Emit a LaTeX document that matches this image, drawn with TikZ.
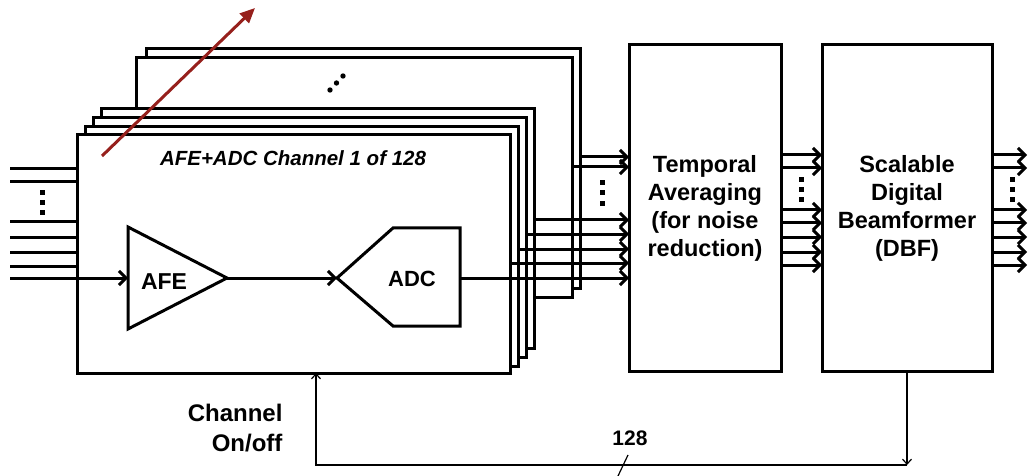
\documentclass[tikz,border=0pt]{standalone}
\usepackage{fontspec}
\setmainfont{Liberation Sans}
\usetikzlibrary{arrows.meta, positioning, calc}
\definecolor{tunered}{RGB}{150,32,28}

\begin{document}
\begin{tikzpicture}[
        x=1pt, y=-1pt,
        chan/.style={rectangle, draw=black, line width=3pt, fill=white, outer sep=0pt, inner sep=0pt, minimum width=433pt, minimum height=239pt, anchor=north west},
        block/.style={rectangle, draw=black, line width=3pt, fill=white, outer sep=0pt, minimum width=152pt, minimum height=326pt, anchor=north west, align=center, font=\fontsize{23.5}{28}\selectfont\bfseries},
        part/.style={draw=black, line width=3pt, line join=miter},
        arrow/.style={line width=3pt, -{Straight Barb[length=7pt, width=14pt]}},
        wire/.style={line width=3pt},
        fbline/.style={line width=1.2pt, -{Straight Barb[length=5pt, width=9pt]}},
        dotm/.style={fill=black}
    ]
    \useasboundingbox (0,0) rectangle (1029,476);

    % Channel stack (back to front)
    \node[chan, minimum width=434pt] (back0) at (146,49) {};
    \node[chan, minimum width=436pt] (back1) at (136,58) {};
    \node[chan] (s4) at (101,109) {};
    \node[chan] (s3) at (93,118) {};
    \node[chan] (s2) at (85,127) {};
    \node[chan, minimum height=238pt] (front) at (77,135) {};

    % Processing blocks
    \node[block] (temporal) at (629,45) {Temporal\\Averaging\\(for noise\\reduction)};
    \node[block, minimum width=170pt, anchor=west] (dbf) [right=41pt of temporal] {Scalable\\Digital\\Beamformer\\(DBF)};

    % Texts
    \node[font=\fontsize{20.5}{24}\selectfont\bfseries\itshape] (title) at (293,158) {AFE+ADC Channel 1 of 128};
    \node[font=\fontsize{24}{30}\selectfont\bfseries, align=right, anchor=east] (onoff) at (286,428) {Channel\\On/off};

    % AFE and ADC
    \coordinate (afe-in) at (128,278);
    \coordinate (afe-out) at (227,278);
    \coordinate (adc-in) at (337,278);
    \coordinate (adc-out) at (460,278);
    \draw[part] (128,227) -- (afe-out) -- (128,329) -- cycle;
    \draw[part] (adc-in) -- (393,228) -- (460,228) -- (460,326) -- (393,326) -- cycle;
    \node[font=\fontsize{23}{26}\selectfont\bfseries] (afe) at (164,282) {AFE};
    \node[font=\fontsize{22}{26}\selectfont\bfseries] (adc) at (412,279) {ADC};

    % Inputs
    \coordinate (inL) at (10,0);
    \foreach \y in {169,182,222,237,252,266}
        \draw[wire] (inL |- 0,\y) -- (front.west |- 0,\y);
    \draw[arrow] (inL |- afe-in) -- (afe-in);
    \draw[arrow] (afe-out) -- (adc-in);

    % Channel outputs
    \draw[arrow] (back0.east |- 0,157) -- (temporal.west |- 0,157);
    \draw[arrow] (back1.east |- 0,167) -- (temporal.west |- 0,167);
    \draw[arrow] (s4.east |- 0,220) -- (temporal.west |- 0,220);
    \draw[arrow] (s3.east |- 0,234) -- (temporal.west |- 0,234);
    \draw[arrow] (s2.east |- 0,249) -- (temporal.west |- 0,249);
    \draw[arrow] (front.east |- 0,263) -- (temporal.west |- 0,263);
    \draw[arrow] (adc-out) -- (temporal.west |- adc-out);

    % Block to block, and outputs
    \coordinate (outR) at (1027,0);
    \foreach \y in {155,168,210,223,237,252,265} {
        \draw[arrow] (temporal.east |- 0,\y) -- (dbf.west |- 0,\y);
        \draw[arrow] (dbf.east |- 0,\y) -- (outR |- 0,\y);
    }

    % Dots
    \foreach \y in {193,203,213} \fill[dotm] (39.5,\y-2.5) rectangle ++(5,5);
    \foreach \y in {183,193,204} \fill[dotm] (599.5,\y-2.5) rectangle ++(5,5);
    \foreach \y in {180,190,200} {
        \fill[dotm] (798.5,\y-2.5) rectangle ++(5,5);
        \fill[dotm] (1009.5,\y-2.5) rectangle ++(5,5);
    }
    \foreach \x/\y in {330/90,336.5/83,343/76} \fill[dotm] (\x,\y) circle (2.7pt);

    % Channel on/off feedback
    \coordinate (fbcorner) at (dbf.south |- 0,465);
    \coordinate (onoffin) at ($(front.south west)+(239,0)$);
    \coordinate (slash) at (623,465);
    \draw[fbline] (dbf.south) -- (fbcorner);
    \draw[fbline] (fbcorner) -| (onoffin);
    \draw[line width=1.2pt] (slash) ++(-5,11) -- ++(10,-21);
    \node[font=\fontsize{21}{24}\selectfont\bfseries] (bus) at (630,438) {128};

    % Tuning arrow
    \coordinate (tuneA) at (102,156);
    \coordinate (tuneB) at (255,8);
    \draw[line width=3pt, tunered, -{Triangle[length=15pt, width=13pt]}] (tuneA) -- (tuneB);
\end{tikzpicture}
\end{document}
